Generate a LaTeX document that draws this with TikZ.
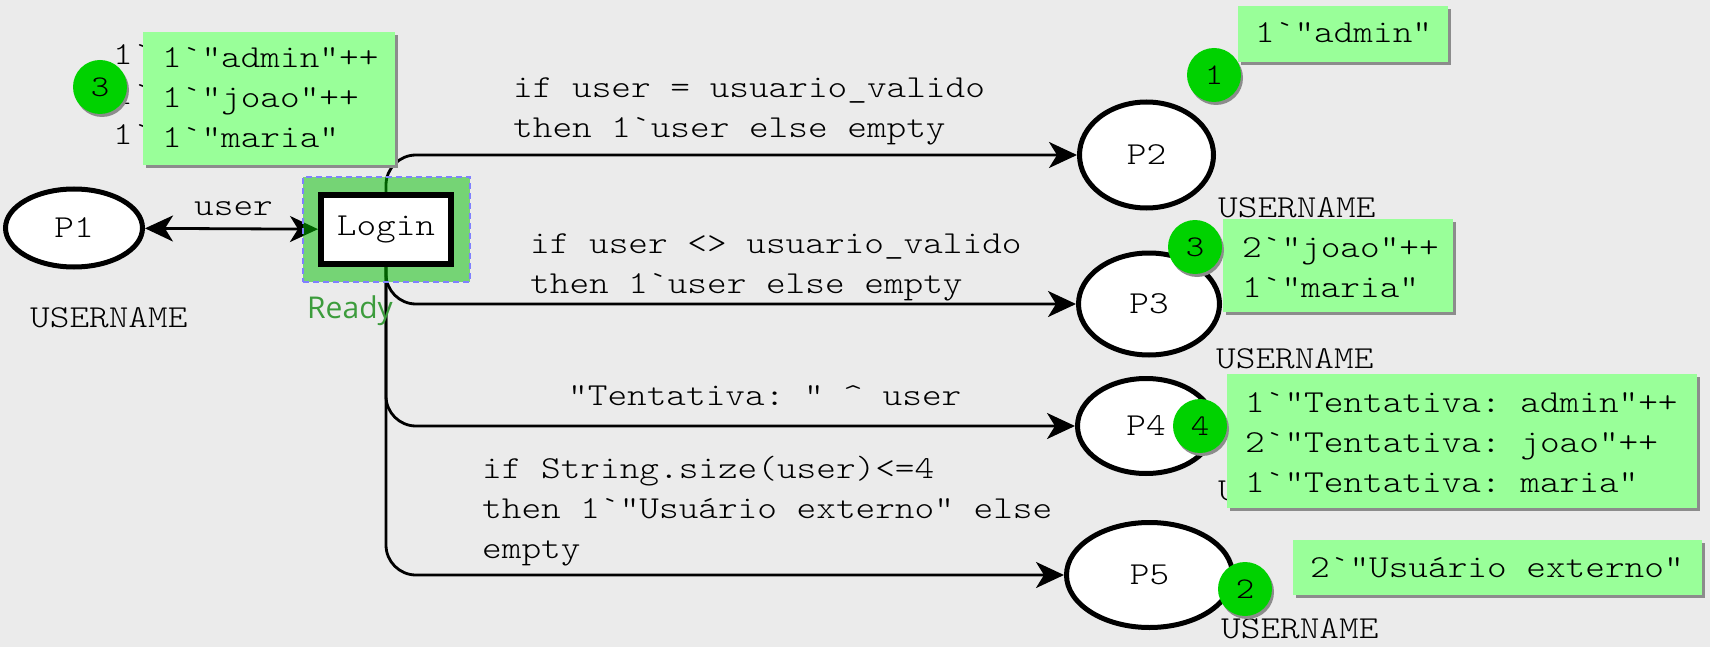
\documentclass[tikz,border=0pt]{standalone}
\usepackage{fontspec}
\setmonofont{lmmonolt10-regular.otf}[FakeStretch=1.17]
\newfontfamily\readyfont{Open Sans}
\usetikzlibrary{arrows.meta,shapes.geometric,shadows}
\definecolor{bgc}{HTML}{EBEBEB}
\definecolor{tokfill}{HTML}{99FF99}
\definecolor{tokcirc}{HTML}{00D200}
\definecolor{shadec}{HTML}{8C8C8C}
\definecolor{readytxt}{HTML}{3C9C3C}
\definecolor{dashblue}{HTML}{8080FF}
\definecolor{hilite}{RGB}{0,190,0}
\pgfdeclarelayer{bgl}
\pgfdeclarelayer{arcl}
\pgfdeclarelayer{hil}
\pgfsetlayers{bgl,arcl,hil,main}
\begin{document}
\begin{tikzpicture}[x=1pt,y=-1pt,
  mono/.style={font=\ttfamily\fontsize{32}{40}\selectfont, inner sep=0pt},
  place/.style={ellipse, draw=black, line width=5pt, fill=white, inner sep=0pt, font=\ttfamily\fontsize{32}{40}\selectfont},
  arcline/.style={draw=black, line width=2.8pt, rounded corners=30pt, -{Stealth[length=28pt,width=26pt,inset=8pt]}},
  tokbox/.style={draw=none, fill=tokfill, anchor=north west, inner sep=0pt, drop shadow={shadow xshift=3pt, shadow yshift=-3pt, opacity=1, fill=shadec}},
  tokcount/.style={circle, fill=tokcirc, minimum size=54pt, inner sep=0pt, font=\ttfamily\fontsize{30}{32}\selectfont, drop shadow={shadow xshift=2pt, shadow yshift=-3pt, opacity=1, fill=shadec}},
]
\begin{pgfonlayer}{bgl}
\fill[bgc] (0,0) rectangle (1710,647);
\end{pgfonlayer}
\useasboundingbox (0,0) rectangle (1710,647);

% transition
\node[rectangle, draw=black, line width=6pt, fill=white, minimum width=130pt, minimum height=69pt, inner sep=0pt, font=\ttfamily\fontsize{32}{40}\selectfont] (login) at (386,229.5) {Login};
\begin{pgfonlayer}{hil}
\node[rectangle, draw=dashblue, dash pattern=on 6pt off 4pt, line width=1.5pt, fill=hilite, fill opacity=0.5, minimum width=167pt, minimum height=105pt, inner sep=0pt] (readybox) at (386.5,229.5) {};
\end{pgfonlayer}
\node[font=\readyfont\fontsize{30}{32}\selectfont, text=readytxt, anchor=base west, inner sep=0pt] (readylbl) at (307,318) {Ready};

% places
\node[place, minimum width=137pt, minimum height=78pt] (P1) at (74,228) {P1};
\node[place, minimum width=134pt, minimum height=106pt] (P2) at (1146.5,155) {P2};
\node[place, minimum width=141pt, minimum height=102pt] (P3) at (1149,304) {P3};
\node[place, minimum width=137pt, minimum height=95pt] (P4) at (1146,426) {P4};
\node[place, minimum width=166pt, minimum height=105pt] (P5) at (1149.5,575) {P5};

% arcs
\begin{pgfonlayer}{arcl}
\draw[arcline, {Stealth[length=28pt,width=26pt,inset=8pt]}-{Stealth[length=28pt,width=26pt,inset=8pt]}] (P1) -- (login);
\draw[arcline] (login.center) |- (P2.west);
\draw[arcline] (login.center) |- (P3.west);
\draw[arcline] (login.center) |- (P4.west);
\draw[arcline] (login.center) |- (P5.west);
\end{pgfonlayer}

% arc labels
\node[mono, anchor=base west] (luser) at (194,215) {user};
\node[mono, anchor=base west] (l2) at (513,98) {\vtop{\hbox{if user = usuario\_valido}\hbox{then 1`user else empty}}};
\node[mono, anchor=base west] (l3) at (530,253) {\vtop{\hbox{if user <> usuario\_valido}\hbox{then 1`user else empty}}};
\node[mono, anchor=base west] (l4) at (568,405) {"Tentativa: " \textasciicircum{} user};
\node[mono, anchor=base west] (l5) at (482,478) {\vtop{\hbox{if String.size(user)<=4}\hbox{then 1`"Usuário externo" else}\hbox{empty}}};

% colour set labels
\node[mono, anchor=base west] (t1) at (30,327) {USERNAME};
\node[mono, anchor=base west] (t2) at (1218,218) {USERNAME};
\node[mono, anchor=base west] (t3) at (1216,368) {USERNAME};
\node[mono, anchor=base west] (t4) at (1218,500) {USERNAME};
\node[mono, anchor=base west] (t5) at (1221,638) {USERNAME};

% initial marking (mostly hidden)
\node[mono, anchor=base west] (init) at (113,65) {\vtop{\hbox{1`"admin"++}\hbox{1`"joao"++}\hbox{1`"maria"}}};

% current markings
\node[tokbox, minimum width=252pt, minimum height=133pt] (b1) at (143,32) {};
\node[mono, anchor=base west] (m1) at (162,68) {\vtop{\hbox{1`"admin"++}\hbox{1`"joao"++}\hbox{1`"maria"}}};
\node[tokcount] (c1) at (100,87) {3};

\node[tokbox, minimum width=210pt, minimum height=56pt] (b2) at (1238,6) {};
\node[mono, anchor=base west] (m2) at (1255,43) {1`"admin"};
\node[tokcount] (c2) at (1214,75) {1};

\node[tokbox, minimum width=230pt, minimum height=93pt] (b3) at (1223,219) {};
\node[mono, anchor=base west] (m3) at (1242,257) {\vtop{\hbox{2`"joao"++}\hbox{1`"maria"}}};
\node[tokcount] (c3) at (1195,247) {3};

\node[tokbox, minimum width=470pt, minimum height=134pt] (b4) at (1227,374) {};
\node[mono, anchor=base west] (m4) at (1245,412) {\vtop{\hbox{1`"Tentativa: admin"++}\hbox{2`"Tentativa: joao"++}\hbox{1`"Tentativa: maria"}}};
\node[tokcount] (c4) at (1200,426) {4};

\node[tokbox, minimum width=409pt, minimum height=55pt] (b5) at (1293,540) {};
\node[mono, anchor=base west] (m5) at (1310,577) {2`"Usuário externo"};
\node[tokcount] (c5) at (1245,589) {2};
\end{tikzpicture}
\end{document}
